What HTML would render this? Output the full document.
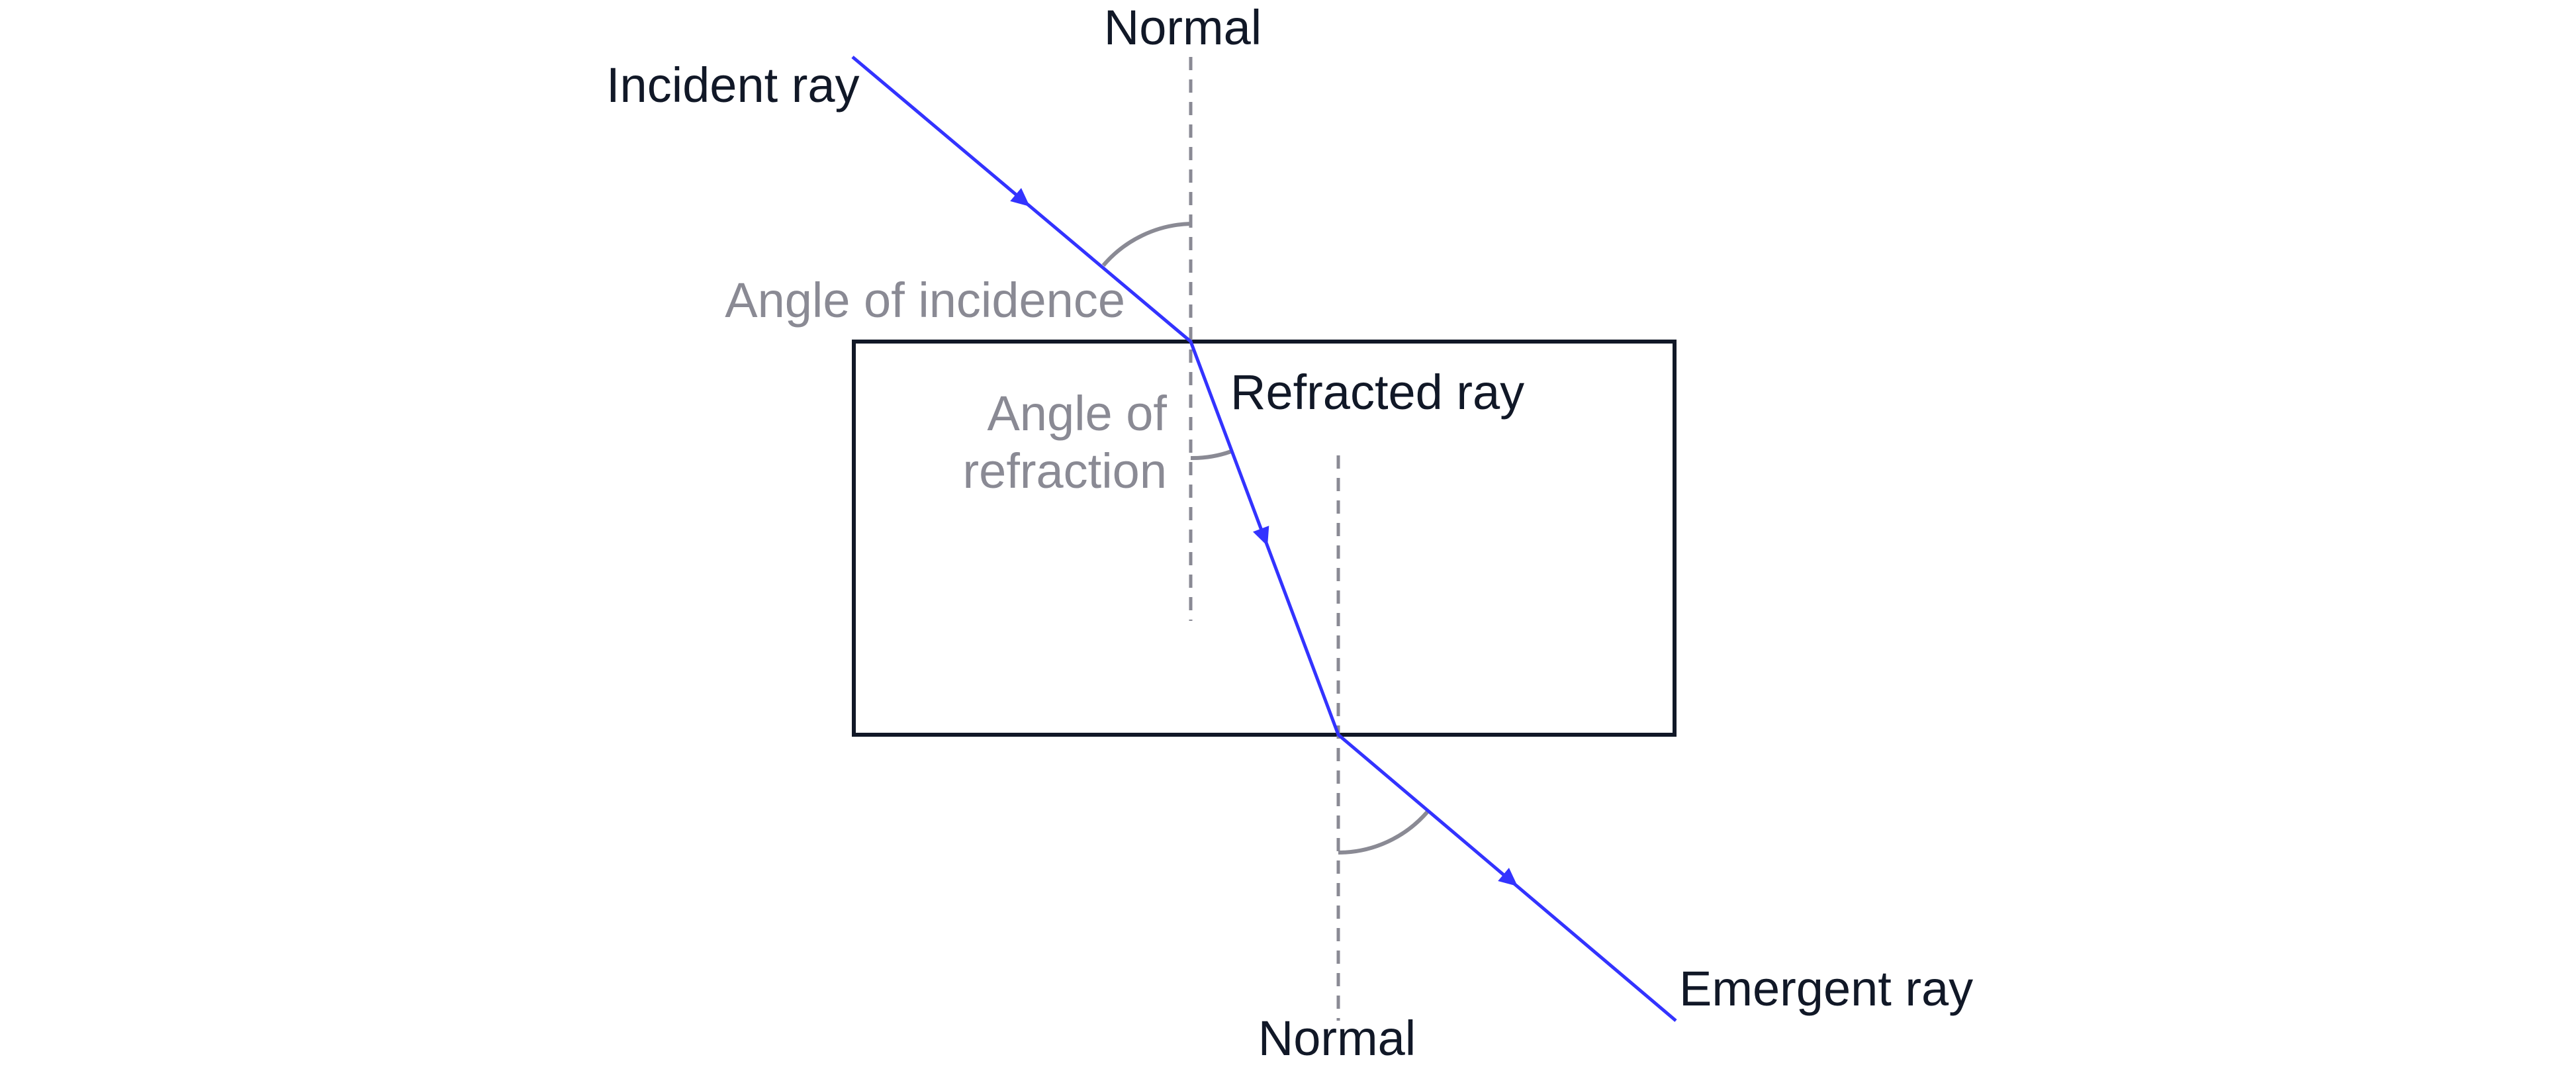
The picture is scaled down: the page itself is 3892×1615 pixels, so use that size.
<!DOCTYPE html>
<html><head><meta charset="utf-8"><style>
html,body{margin:0;padding:0;background:#fff;}
svg{display:block;}
text{font-family:"Liberation Sans",sans-serif;font-size:74px;}
</style></head><body>
<svg width="3892" height="1615" viewBox="0 0 3892 1615" xmlns="http://www.w3.org/2000/svg">
<rect width="3892" height="1615" fill="#fff"/>
<rect x="1290" y="516" width="1240" height="594" fill="none" stroke="#111827" stroke-width="6"/>
<line x1="1799" y1="86" x2="1799" y2="938" stroke="#8a8a94" stroke-width="5" stroke-dasharray="20 14"/>
<line x1="2022" y1="688" x2="2022" y2="1542" stroke="#8a8a94" stroke-width="5" stroke-dasharray="20 14"/>
<path d="M1799,338 A180,180 0 0 0 1667,401" fill="none" stroke="#8a8a94" stroke-width="6"/>
<path d="M1799,692 A174,174 0 0 0 1860,682" fill="none" stroke="#8a8a94" stroke-width="6"/>
<path d="M2022,1288 A178,178 0 0 0 2157,1226" fill="none" stroke="#8a8a94" stroke-width="6"/>
<polyline points="1288,86 1799,516 2022,1110 2532,1542" fill="none" stroke="#3333ff" stroke-width="5"/>
<g fill="#3333ff">
<polygon points="0,0 -28,-13 -28,13" transform="translate(1556,312) rotate(40.1)"/>
<polygon points="0,0 -28,-13 -28,13" transform="translate(1915,825) rotate(69.4)"/>
<polygon points="0,0 -28,-13 -28,13" transform="translate(2293,1339) rotate(40)"/>
</g>
<g fill="#111827">
<text x="1787" y="67" text-anchor="middle">Normal</text>
<text x="916" y="154">Incident ray</text>
<text x="1859" y="618">Refracted ray</text>
<text x="2537" y="1519">Emergent ray</text>
<text x="2020" y="1594" text-anchor="middle">Normal</text>
</g>
<g fill="#8a8a94">
<text x="1700" y="479" text-anchor="end">Angle of incidence</text>
<text x="1763" y="650" text-anchor="end">Angle of</text>
<text x="1763" y="737" text-anchor="end">refraction</text>
</g>
</svg>
</body></html>
